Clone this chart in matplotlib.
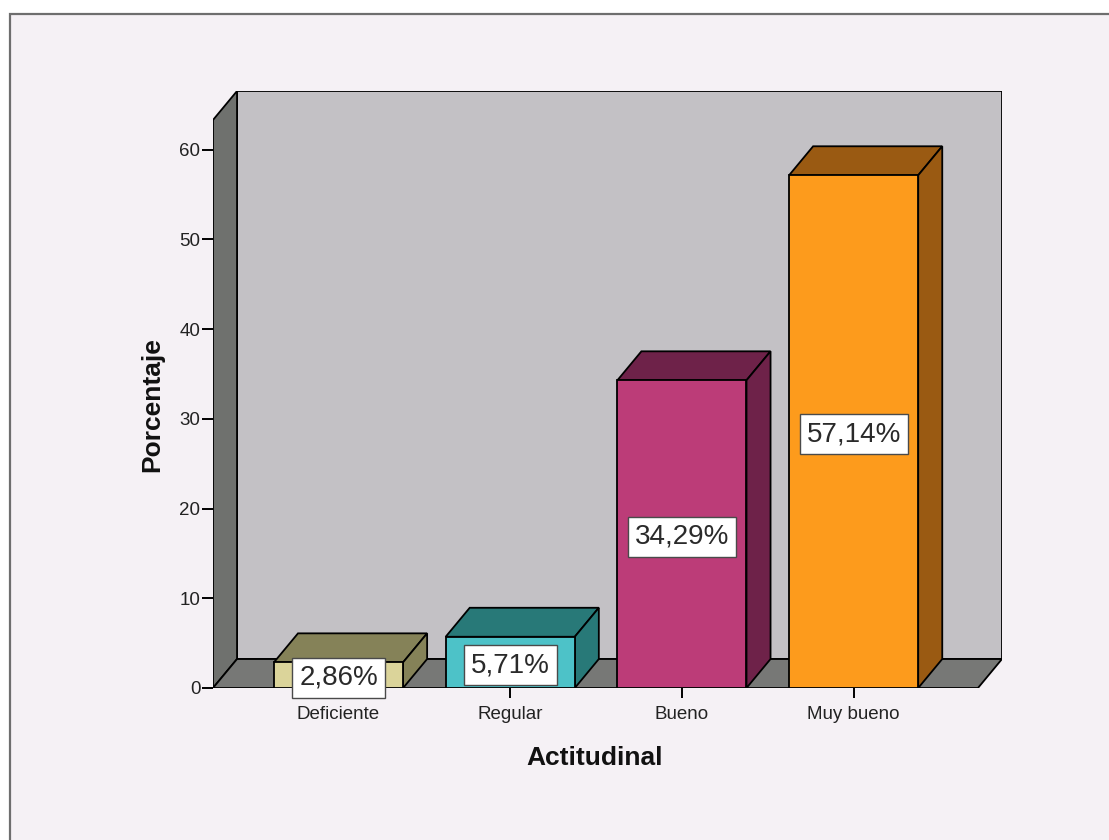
import matplotlib
matplotlib.use("Agg")
import matplotlib.pyplot as plt
from matplotlib.patches import Polygon, Rectangle

plt.rcParams['font.family'] = ['Liberation Sans', 'DejaVu Sans']

categories = ["Deficiente", "Regular", "Bueno", "Muy bueno"]
percentages = [2.86, 5.71, 34.29, 57.14]
yticks = [0, 10, 20, 30, 40, 50, 60]

front_colors = ["#dbd49a", "#4dc2c8", "#bc3c78", "#fd9b1c"]
shade_colors = ["#858258", "#287978", "#6e2249", "#9a5a12"]

# 3d look: depth offset in data units, bar half width
DX = 0.14
DY = 3.23
HW = 0.376
XMIN, XMAX = -0.731, 3.864
YTOP = 66.53

fig = plt.figure(figsize=(11.09, 8.4), dpi=100)
fig.patch.set_facecolor("white")
fig.patches.append(Rectangle((10 / 1109, -0.05), 1.1, 0.05 + 826 / 840,
                             transform=fig.transFigure, facecolor="#f5f1f5",
                             edgecolor="#6e6e6e", lw=1.6, zorder=-10))

ax = fig.add_axes([213 / 1109, 152 / 840, 789 / 1109, 597 / 840])
ax.set_zorder(1)
ax.set_facecolor("none")
ax.set_xlim(XMIN, XMAX)
ax.set_ylim(0, YTOP)
for s in ax.spines.values():
    s.set_visible(False)

front_right = XMAX - DX
top_front = YTOP - DY
# back wall
ax.add_patch(Polygon([(XMIN + DX, DY), (XMAX, DY), (XMAX, YTOP), (XMIN + DX, YTOP)],
                     closed=True, facecolor="#c3c1c5", edgecolor="black", lw=1.3, zorder=1))
# left wall
ax.add_patch(Polygon([(XMIN, 0), (XMIN + DX, DY), (XMIN + DX, YTOP), (XMIN, top_front)],
                     closed=True, facecolor="#6f716e", edgecolor="black", lw=1.3, zorder=2))
# floor
ax.add_patch(Polygon([(XMIN, 0), (front_right, 0), (XMAX, DY), (XMIN + DX, DY)],
                     closed=True, facecolor="#777876", edgecolor="black", lw=1.3, zorder=2))

xs = list(range(len(categories)))
for x, h, fc, sc in zip(xs, percentages, front_colors, shade_colors):
    top = [(x - HW, h), (x + HW, h), (x + HW + DX, h + DY), (x - HW + DX, h + DY)]
    side = [(x + HW, 0), (x + HW + DX, DY), (x + HW + DX, h + DY), (x + HW, h)]
    ax.add_patch(Polygon(top, closed=True, facecolor=sc, edgecolor="black", lw=1.3, zorder=3))
    ax.add_patch(Polygon(side, closed=True, facecolor=sc, edgecolor="black", lw=1.3, zorder=3))

ax.bar(xs, percentages, width=2 * HW, color=front_colors, edgecolor="black",
       linewidth=1.3, zorder=4)

for x, h in zip(xs, percentages):
    lab = f"{h:.2f}%".replace(".", ",")
    ax.text(x, h / 2 - 0.3, lab, ha="center", va="center", fontsize=20, color="#2a2a2a",
            zorder=6, clip_on=False,
            bbox=dict(boxstyle="square,pad=0.25", facecolor="white",
                      edgecolor="#4a4a4a", lw=1.0))

ax.set_yticks(yticks)
ax.set_xticks(xs, categories)
ax.tick_params(axis="y", length=8, width=1.4, pad=1, labelsize=13.5,
               labelcolor="#222222")
ax.tick_params(axis="x", length=7, width=1.4, pad=6, labelsize=13.5,
               labelcolor="#222222")

ax.set_ylabel("Porcentaje", fontsize=19, fontweight="bold", color="#111111")
ax.yaxis.set_label_coords(-0.062, 0.474)
ax.set_xlabel("Actitudinal", fontsize=19, fontweight="bold", color="#111111")
ax.xaxis.set_label_coords(0.484, -0.097)

fig.savefig("out.png", dpi=100)
